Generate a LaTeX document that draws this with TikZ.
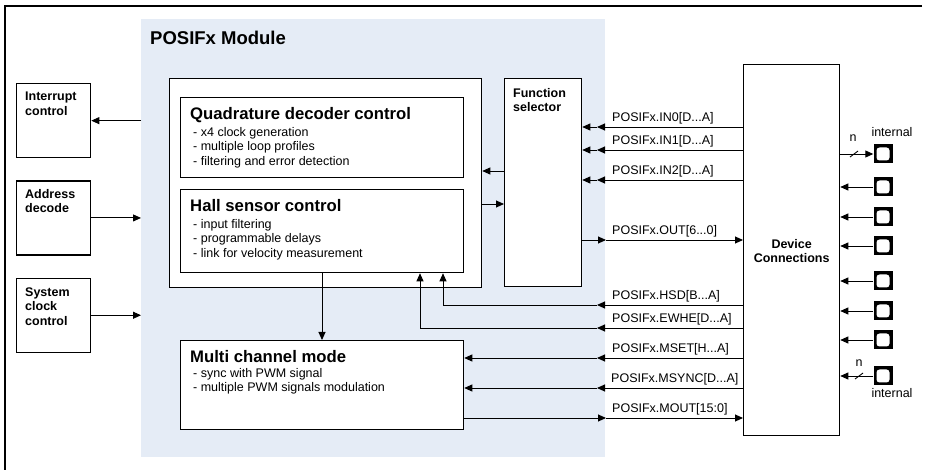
\documentclass[tikz,border=0pt]{standalone}
\usepackage{fontspec}
\setmainfont{Liberation Sans}
\usetikzlibrary{arrows.meta,positioning,calc}
\definecolor{PanelBlue}{HTML}{E5ECF6}

\begin{document}
\begin{tikzpicture}[
    x=1pt, y=-1pt,
    font=\fontsize{12.5}{14.6}\selectfont,
    panel/.style={fill=PanelBlue, inner sep=0pt, anchor=north west},
    blk/.style={draw, line width=1.3pt, fill=white, inner sep=0pt, anchor=north west},
    head/.style={font=\bfseries\fontsize{16.7}{18}\selectfont, anchor=base west, inner sep=0pt},
    lbl/.style={font=\bfseries\fontsize{12.5}{14.6}\selectfont, align=left, anchor=north west,
      inner sep=0pt, execute at begin node=\strut},
    items/.style={align=left, anchor=north west, inner sep=0pt, execute at begin node=\strut},
    sigtext/.style={anchor=base west, inner sep=0pt},
    wire/.style={draw, line width=0.9pt},
    sig/.style={wire, -{Triangle[length=8pt,width=7pt]}},
    pin/.style={
      fill=black,
      minimum size=19pt,
      inner sep=0pt,
      path picture={\fill[white, rounded corners=3pt]
        ($(path picture bounding box.south west)+(3pt,3pt)$) rectangle
        ($(path picture bounding box.north east)-(3pt,3pt)$);}
    }
  ]
  \useasboundingbox (0,0) rectangle (927,470);
  \draw[line width=1.3pt] (922,6) -- (5,6) -- (5,470);

  \node[panel, minimum width=464pt, minimum height=438pt] (posif) at (141,19) {};
  \node[anchor=base west, inner sep=0pt, font=\bfseries\fontsize{18.5}{20}\selectfont] (posiftitle) at (150,45) {POSIFx Module};

  \node[blk, minimum width=74pt, minimum height=74pt] (irq) at (16,83) {};
  \node[blk, minimum width=74pt, minimum height=74pt, below=22pt of irq] (addr) {};
  \node[blk, minimum width=74pt, minimum height=74pt, below=22pt of addr] (sclk) {};
  \node[lbl] (irqtext) at ($(irq.north west)+(9,8.8)$) {Interrupt\\control};
  \node[lbl] (addrtext) at ($(addr.north west)+(9,8.8)$) {Address\\decode};
  \node[lbl] (sclktext) at ($(sclk.north west)+(9,9.8)$) {System\\clock\\control};

  \node[blk, minimum width=312pt, minimum height=209pt] (core) at (169,78) {};
  \node[blk, minimum width=283pt, minimum height=80pt] (qdc) at (180,97) {};
  \node[blk, minimum width=283pt, minimum height=83pt] (hall) at (180,189) {};
  \node[blk, minimum width=283pt, minimum height=89pt] (multi) at (180,340) {};
  \node[blk, minimum width=77pt, minimum height=208pt] (fsel) at (504,78) {};
  \node[blk, minimum width=96pt, minimum height=371pt] (dev) at (743,64) {};

  \node[head] (qdchead) at (190,120) {Quadrature decoder control};
  \node[items] (qdcitems) at (193,126.8) {- x4 clock generation\\- multiple loop profiles\\- filtering and error detection};
  \node[head] (hallhead) at (190,212) {Hall sensor control};
  \node[items] (hallitems) at (193,218.8) {- input filtering\\- programmable delays\\- link for velocity measurement};
  \node[head] (multihead) at (190,363) {Multi channel mode};
  \node[items] (multiitems) at (193,367.8) {- sync with PWM signal\\- multiple PWM signals modulation};
  \node[lbl] (fseltext) at (513,87.8) {Function\\selector};
  \node[lbl, align=center, anchor=center, execute at begin node={}] (devtext) at ($(dev.center)+(0,3)$) {Device\\Connections};

  \draw[sig] (posif.west |- irq.east) -- (irq.east);
  \draw[sig] (addr.east) -- (posif.west |- addr.east);
  \draw[sig] (sclk.east) -- (posif.west |- sclk.east);

  \draw[sig] (fsel.west |- 0,171) -- (core.east |- 0,171);
  \draw[sig] (core.east |- 0,204) -- (fsel.west |- 0,204);
  \draw[sig] (hall.south -| 322,0) -- (multi.north -| 322,0);

  \coordinate (edgeL) at (597,0);
  \coordinate (edgeR) at (606,0);
  \foreach \y in {127,150,180} {
    \draw[sig] (dev.west |- 0,\y) -- (edgeL |- 0,\y);
    \draw[sig] (edgeL |- 0,\y) -- (fsel.east |- 0,\y);
  }
  \draw[sig] (fsel.east |- 0,240) -- (edgeR |- 0,240);
  \draw[sig] (edgeR |- 0,240) -- (dev.west |- 0,240);
  \draw[sig] (dev.west |- 0,305) -- (edgeL |- 0,305);
  \draw[sig] (edgeL |- 0,305) -| (hall.south -| 443,0);
  \draw[sig] (dev.west |- 0,328) -- (edgeL |- 0,328);
  \draw[sig] (edgeL |- 0,328) -| (hall.south -| 420,0);
  \foreach \y in {358,388} {
    \draw[sig] (dev.west |- 0,\y) -- (edgeL |- 0,\y);
    \draw[sig] (edgeL |- 0,\y) -- (multi.east |- 0,\y);
  }
  \draw[sig] (multi.east |- 0,418) -- (edgeR |- 0,418);
  \draw[sig] (edgeR |- 0,418) -- (dev.west |- 0,418);

  \node[sigtext] (in0lab) at (612,121.5) {POSIFx.IN0[D...A]};
  \node[sigtext] (in1lab) at (612,144.5) {POSIFx.IN1[D...A]};
  \node[sigtext] (in2lab) at (612,174.5) {POSIFx.IN2[D...A]};
  \node[sigtext] (outlab) at (612,234.5) {POSIFx.OUT[6...0]};
  \node[sigtext] (hsdlab) at (612,299.5) {POSIFx.HSD[B...A]};
  \node[sigtext] (ewhelab) at (612,322.5) {POSIFx.EWHE[D...A]};
  \node[sigtext] (msetlab) at (612,352.5) {POSIFx.MSET[H...A]};
  \node[sigtext] (msynclab) at (611,382.5) {POSIFx.MSYNC[D...A]};
  \node[sigtext] (moutlab) at (612,412.5) {POSIFx.MOUT[15:0]};

  \foreach \y [count=\i] in {154,187,217,246,281,311,340,376}
    \node[pin] (pin\i) at (883,\y) {};
  \draw[sig] (dev.east |- pin1) -- (pin1.west);
  \foreach \i in {2,...,8}
    \draw[sig] (pin\i.west) -- (dev.east |- pin\i);
  \draw[wire] (850,157) -- (858,151);
  \draw[wire] (855,379) -- (863,373);
  \node[anchor=base, inner sep=0pt] (n1) at (853,142) {n};
  \node[anchor=base, inner sep=0pt] (n8) at (859,367) {n};
  \node[inner sep=0pt, above=7pt of pin1, xshift=9pt] (int1) {internal};
  \node[inner sep=0pt, below=3pt of pin8, xshift=9pt] (int8) {internal};
\end{tikzpicture}
\end{document}
